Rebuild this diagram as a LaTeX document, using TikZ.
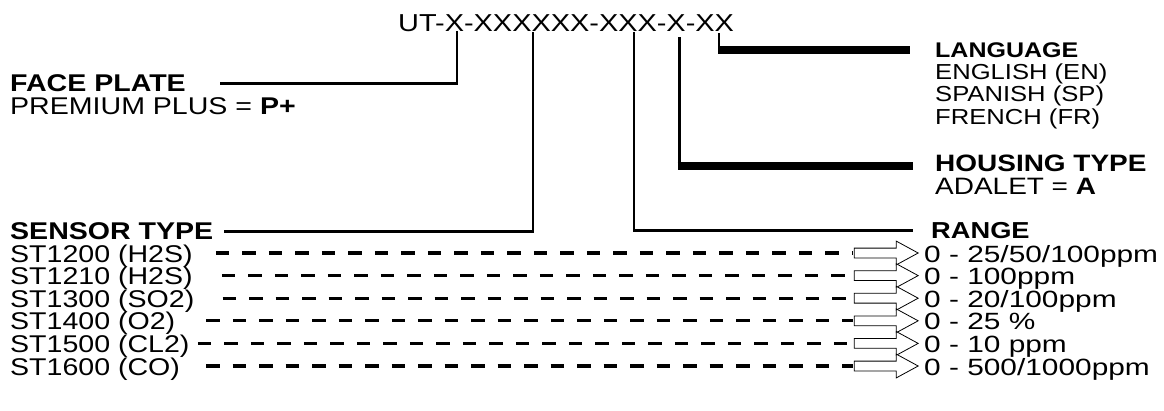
\documentclass[tikz,border=0pt]{standalone}
\usepackage{fontspec}
\setmainfont{Liberation Sans}[FakeStretch=1.18]
\newfontfamily\rangefont{Liberation Sans}[FakeStretch=1.27]
\usetikzlibrary{shapes.arrows}

\tikzset{
  lbl/.style={anchor=base west,inner sep=0pt,font=\fontsize{24.2}{26}\selectfont},
  hdr/.style={lbl,font=\fontsize{24.2}{26}\selectfont\bfseries},
  smlbl/.style={lbl,font=\fontsize{21.7}{24}\selectfont},
  smhdr/.style={lbl,font=\fontsize{21.2}{24}\selectfont\bfseries},
  rlbl/.style={lbl,font=\rangefont\fontsize{23.5}{26}\selectfont},
  leader/.style={line width=2.8pt},
  heavy/.style={line width=8pt},
  dashline/.style={line width=3.1pt,dash pattern=on 13.5pt off 13pt},
  rangearrow/.style={single arrow,draw,line width=0.8pt,fill=white,minimum height=64pt,
    single arrow head extend=7pt,inner sep=4.5pt,single arrow tip angle=57,anchor=tip}
}

\begin{document}
\begin{tikzpicture}[x=1pt,y=-1pt]
\useasboundingbox[fill=white] (0,0) rectangle (1164,410);

% part number
\node[lbl,font=\fontsize{24.5}{26}\selectfont] (code) at (398,31) {UT-X-XXXXXX-XXX-X-XX};
\coordinate (kFace) at (457,31);
\coordinate (kSensor) at (533,32);
\coordinate (kRange) at (634,32);
\coordinate (kHouse) at (679,37);
\coordinate (kLang) at (719,33);

% left side
\node[hdr] (face) at (10,91.5) {FACE PLATE};
\node[lbl] (faceval) at (10,114.5) {PREMIUM PLUS = \textbf{P+}};
\node[hdr] (sensor) at (10,239.5) {SENSOR TYPE};
\node[lbl] (s1) at (10,262) {ST1200 (H2S)};
\node[lbl] (s2) at (10,284.6) {ST1210 (H2S)};
\node[lbl] (s3) at (10,307.2) {ST1300 (SO2)};
\node[lbl] (s4) at (10,329.8) {ST1400 (O2)};
\node[lbl] (s5) at (10,352.4) {ST1500 (CL2)};
\node[lbl] (s6) at (10,375) {ST1600 (CO)};

% right side
\node[smhdr] (lang) at (935,57.5) {LANGUAGE};
\node[smlbl] (lang1) at (935,79) {ENGLISH (EN)};
\node[smlbl] (lang2) at (935,101.5) {SPANISH (SP)};
\node[smlbl] (lang3) at (935,124) {FRENCH (FR)};
\node[hdr,font=\fontsize{23.7}{26}\selectfont\bfseries] (house) at (935,171.5) {HOUSING TYPE};
\node[lbl,font=\fontsize{23.7}{26}\selectfont] (houseval) at (935,194.5) {ADALET = \textbf{A}};
\node[hdr,font=\fontsize{23.1}{26}\selectfont\bfseries] (range) at (931,238.5) {RANGE};
\node[rlbl] (r1) at (924,262) {0 - 25/50/100ppm};
\node[rlbl] (r2) at (924,284.6) {0 - 100ppm};
\node[rlbl] (r3) at (924,307.2) {0 - 20/100ppm};
\node[rlbl] (r4) at (924,329.8) {0 - 25 \%};
\node[rlbl] (r5) at (924,352.4) {0 - 10 ppm};
\node[rlbl] (r6) at (924,375) {0 - 500/1000ppm};

% leaders
\draw[leader] (kFace) |- ([xshift=34]face.east);
\draw[leader] (kSensor) |- ([xshift=10]sensor.east);
\draw[leader] (kRange) |- ([xshift=-18]range.west);
\draw[line width=3pt] (kHouse) -- ([yshift=-2.5]kHouse |- house.west);
\draw[heavy] ([xshift=-1.5,yshift=-2.5]kHouse |- house.west) -- ([xshift=-22,yshift=-2.5]house.west);
\draw[line width=1.2pt] (kLang) -- (kLang |- lang.west);
\draw[heavy] ([xshift=-0.6]kLang |- lang.west) -- ([xshift=-25]lang.west);

% arrows
\node[rangearrow] (a1) at ([shift={(-5,-9)}]r1.base west) {};
\node[rangearrow] (a2) at ([shift={(-5,-9)}]r2.base west) {};
\node[rangearrow] (a3) at ([shift={(-5,-9)}]r3.base west) {};
\node[rangearrow] (a4) at ([shift={(-5,-9)}]r4.base west) {};
\node[rangearrow] (a5) at ([shift={(-5,-9)}]r5.base west) {};
\node[rangearrow] (a6) at ([shift={(-5,-9)}]r6.base west) {};
\draw[dashline] ([shift={(23,-9)}]s1.base east) -- ([xshift=-1]a1.west);
\draw[dashline] ([shift={(29,-9)}]s2.base east) -- (a2.west);
\draw[dashline] ([shift={(28,-9)}]s3.base east) -- (a3.west);
\draw[dashline] ([shift={(31,-9)}]s4.base east) -- ([xshift=-1]a4.west);
\draw[dashline] ([shift={(8,-9)}]s5.base east) -- ([xshift=-1]a5.west);
\draw[dashline] ([shift={(26,-9)}]s6.base east) -- ([xshift=-1]a6.west);
\end{tikzpicture}
\end{document}
